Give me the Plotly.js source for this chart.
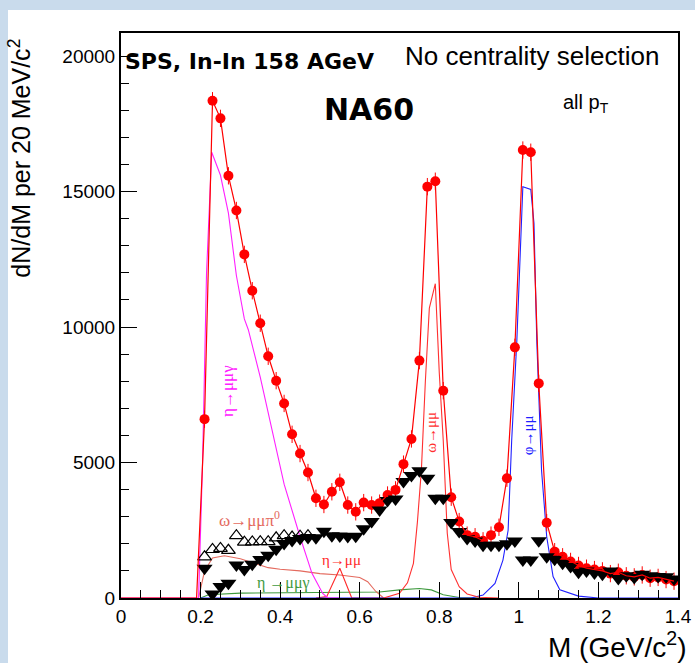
<!DOCTYPE html>
<html>
<head>
<meta charset="utf-8">
<script src="https://cdn.plot.ly/plotly-3.0.1.min.js"></script>
<style>
  html, body { margin: 0; padding: 0; background: #ffffff; }
  #wrap { position: relative; width: 695px; height: 663px; overflow: hidden; background: #ffffff; }
  #bandTop { position: absolute; left: 0; top: 0; width: 695px; height: 10px; background: #c9dbec; }
  #bandLeft { position: absolute; left: 0; top: 0; width: 8px; height: 663px; background: #c9dbec; }
  #chart { position: absolute; left: 0; top: 0; width: 695px; height: 663px; }
</style>
</head>
<body>
<div id="wrap">
  <div id="bandTop"></div>
  <div id="bandLeft"></div>
  <div id="chart"></div>
</div>
<script>
// ---- Data: bin centres (GeV/c^2), 20 MeV bins ----
var massData = [0.21,0.23,0.25,0.27,0.29,0.31,0.33,0.35,0.37,0.39,0.41,0.43,0.45,0.47,0.49,0.51,0.53,0.55,0.57,0.59,
                0.61,0.63,0.65,0.67,0.69,0.71,0.73,0.75,0.77,0.79,0.81,0.83,0.85,0.87,0.89,0.91,0.93,0.95,0.97,0.99,
                1.01,1.03,1.05,1.07,1.09,1.11,1.13,1.15,1.17,1.19,1.21,1.23,1.25,1.27,1.29,1.31,1.33,1.35,1.37,1.39];

// total measured spectrum (red circles)
var countsTotal = [6600,18350,17700,15580,14300,12680,11340,10140,8920,8020,7180,6040,5330,4630,3680,3450,3920,4270,3430,3180,
                   3520,3430,3500,3800,3990,4940,5870,8760,15180,15380,7650,3720,2820,2320,2260,2110,2320,2610,4420,9250,
                   16530,16450,7920,2780,1710,1520,1350,1200,1100,1050,1000,900,950,820,780,850,730,760,680,620];

// red line below threshold
var massLow = [0, 0.19];
var countsLow = [0, 0];

// excess after cocktail subtraction (black filled triangles)
var countsExcess = [1100,150,420,540,1220,1050,1250,1420,1580,1800,2010,2120,2200,2230,2220,2460,2300,2290,2270,2280,
                    2560,2820,3250,3600,3650,4300,4520,4700,4420,3680,3680,2790,2450,2200,2100,1950,1950,1950,2000,2100,
                    1400,1400,2110,1520,1430,1280,1160,950,1000,920,880,1000,720,820,760,880,820,790,780,700];

// open triangles (low-mass region)
var massOpen = [0.21,0.23,0.25,0.27,0.29,0.31,0.33,0.35,0.37,0.39,0.41,0.43,0.45,0.47];
var countsOpen = [1520,1790,1830,1760,2300,2060,2070,2080,2080,2220,2300,2250,2280,2300];

// cocktail: eta Dalitz (magenta)
var massEtaDal = [0, 0.19, 0.195, 0.205, 0.215, 0.228, 0.25, 0.27, 0.29, 0.31, 0.32, 0.35, 0.38, 0.41, 0.45, 0.48, 0.507, 0.52, 0.55];
var countsEtaDal = [0, 0, 0, 5000, 12000, 16450, 15600, 14200, 11900, 10300, 9900, 8150, 6200, 4200, 2260, 910, 170, 0, 0];

// omega Dalitz (light red)
var massOmDal = [0.195, 0.21, 0.23, 0.26, 0.30, 0.33, 0.37, 0.40, 0.45, 0.50, 0.55, 0.60, 0.62, 0.64, 0.66];
var countsOmDal = [0, 1000, 1480, 1560, 1450, 1320, 1120, 1060, 1000, 900, 850, 760, 600, 250, 0];

// eta -> mu mu (red)
var massEtaMM = [0.49, 0.517, 0.55, 0.575, 0.58, 0.66];
var countsEtaMM = [0, 50, 1100, 170, 0, 0];

// eta' Dalitz (green)
var massEtapDal = [0.2, 0.22, 0.30, 0.40, 0.50, 0.60, 0.65, 0.70, 0.75, 0.78, 0.81, 0.85, 0.90];
var countsEtapDal = [0, 120, 180, 190, 180, 190, 220, 300, 350, 300, 120, 20, 0];

// omega -> mu mu (red)
var massOmega = [0.66, 0.70, 0.72, 0.735, 0.745, 0.755, 0.765, 0.775, 0.79, 0.80, 0.81, 0.815, 0.82, 0.83, 0.85, 0.87, 0.90, 0.95];
var countsOmega = [0, 170, 560, 1280, 2800, 4720, 8000, 10700, 11600, 8300, 5800, 4000, 2400, 1050, 420, 150, 30, 0];

// phi -> mu mu (blue)
var massPhi = [0.2, 0.88, 0.91, 0.94, 0.96, 0.973, 0.982, 0.995, 1.01, 1.03, 1.038, 1.045, 1.057, 1.07, 1.086, 1.103, 1.15, 1.2, 1.4];
var countsPhi = [0, 0, 110, 540, 1400, 2500, 5830, 9520, 15180, 15080, 13830, 9520, 4720, 2260, 790, 300, 70, 0, 0];

// ---- Traces ----
function curve(x, y, color) {
  return {x: x, y: y, type: 'scatter', mode: 'lines', line: {color: color, width: 1.1}, hoverinfo: 'skip', showlegend: false};
}
var traces = [
  curve(massEtapDal, countsEtapDal, '#3f9a3f'),
  curve(massOmDal, countsOmDal, '#e46a5e'),
  curve(massEtaMM, countsEtaMM, '#ff2a2a'),
  curve(massPhi, countsPhi, '#2020ff'),
  curve(massEtaDal, countsEtaDal, '#ff20ff'),
  curve(massOmega, countsOmega, '#ff3030'),
  {x: massOpen, y: countsOpen, type: 'scatter', mode: 'markers',
   marker: {symbol: 'triangle-up-open', size: 12, color: '#000000', line: {width: 1.2, color: '#000000'}}, showlegend: false},
  {x: massData, y: countsTotal, type: 'scatter', mode: 'markers',
   marker: {symbol: 'circle', size: 10, color: '#ff0000'},
   error_y: {type: 'constant', value: 320, color: '#ff0000', thickness: 1, width: 0},
   error_x: {type: 'constant', value: 0.011, color: '#ff0000', thickness: 1, width: 0},
   showlegend: false},
  {x: massData, y: countsExcess, type: 'scatter', mode: 'markers',
   marker: {symbol: 'triangle-down', size: 14, color: '#000000'}, showlegend: false},
  {x: massLow.concat(massData), y: countsLow.concat(countsTotal), type: 'scatter', mode: 'lines',
   line: {color: '#ff0000', width: 1.2}, showlegend: false}
];

var serif = 'Liberation Serif, Times New Roman, serif';
var sans = 'Liberation Sans, Arial, sans-serif';
var layout = {
  width: 695, height: 663,
  margin: {l: 121, r: 17, t: 33, b: 65},
  paper_bgcolor: 'rgba(0,0,0,0)',
  plot_bgcolor: '#ffffff',
  showlegend: false,
  xaxis: {
    range: [0, 1.4], tick0: 0, dtick: 0.2,
    ticks: 'inside', ticklen: 16, tickwidth: 1, tickcolor: '#000',
    minor: {dtick: 0.05, ticks: 'inside', ticklen: 8, tickwidth: 1, tickcolor: '#000', showgrid: false},
    showline: true, linewidth: 2, linecolor: '#000', mirror: true,
    showgrid: false, zeroline: false,
    tickfont: {family: sans, size: 19, color: '#000'}
  },
  yaxis: {
    range: [0, 20850], tick0: 0, dtick: 5000, tickformat: 'd',
    ticks: 'inside', ticklen: 16, tickwidth: 1, tickcolor: '#000',
    minor: {dtick: 1000, ticks: 'inside', ticklen: 8, tickwidth: 1, tickcolor: '#000', showgrid: false},
    showline: true, linewidth: 2, linecolor: '#000', mirror: true,
    showgrid: false, zeroline: false,
    tickfont: {family: sans, size: 19, color: '#000'}
  },
  annotations: [
    {xref: 'paper', yref: 'paper', x: -0.181, y: 0.993, xanchor: 'center', yanchor: 'top', textangle: -90,
     text: 'dN/dM per 20 MeV/c<sup>2</sup>', showarrow: false, font: {family: sans, size: 25, color: '#000'}},
    {xref: 'paper', yref: 'paper', x: 1.018, y: -0.083, xanchor: 'right', yanchor: 'middle',
     text: 'M (GeV/c<sup>2</sup>)', showarrow: false, font: {family: sans, size: 28, color: '#000'}},
    {xref: 'x', yref: 'y', x: 0.004, y: 19800, xanchor: 'left', yanchor: 'middle',
     text: '<b>SPS, In-In 158 AGeV</b>', showarrow: false, font: {family: 'DejaVu Sans', size: 22, color: '#000'}},
    {xref: 'x', yref: 'y', x: 1.033, y: 19990, xanchor: 'center', yanchor: 'middle',
     text: 'No centrality selection', showarrow: false, font: {family: sans, size: 26, color: '#000'}},
    {xref: 'x', yref: 'y', x: 1.169, y: 18250, xanchor: 'center', yanchor: 'middle',
     text: 'all p<sub>T</sub>', showarrow: false, font: {family: sans, size: 20, color: '#000'}},
    {xref: 'x', yref: 'y', x: 0.623, y: 18010, xanchor: 'center', yanchor: 'middle',
     text: '<b>NA60</b>', showarrow: false, font: {family: 'DejaVu Sans', size: 30, color: '#000'}},
    {xref: 'x', yref: 'y', x: 0.269, y: 7640, xanchor: 'center', yanchor: 'middle', textangle: -90,
     text: 'η→μμγ', showarrow: false, font: {family: serif, size: 17, color: '#ff20ff'}},
    {xref: 'x', yref: 'y', x: 0.322, y: 2900, xanchor: 'center', yanchor: 'middle',
     text: 'ω→μμπ<sup>0</sup>', showarrow: false, font: {family: serif, size: 17, color: '#e46a5e'}},
    {xref: 'x', yref: 'y', x: 0.553, y: 1400, xanchor: 'center', yanchor: 'middle',
     text: 'η→μμ', showarrow: false, font: {family: serif, size: 15, color: '#ff2a2a'}},
    {xref: 'x', yref: 'y', x: 0.408, y: 560, xanchor: 'center', yanchor: 'middle',
     text: 'η →μμγ', showarrow: false, font: {family: serif, size: 16, color: '#3f9a3f'}},
    {xref: 'x', yref: 'y', x: 0.779, y: 6130, xanchor: 'center', yanchor: 'middle', textangle: -90,
     text: 'ω→μμ', showarrow: false, font: {family: serif, size: 15, color: '#ff3030'}},
    {xref: 'x', yref: 'y', x: 1.023, y: 6010, xanchor: 'center', yanchor: 'middle', textangle: -90,
     text: 'φ→μμ', showarrow: false, font: {family: serif, size: 15, color: '#2020ff'}}
  ]
};

Plotly.newPlot('chart', traces, layout, {displayModeBar: false, staticPlot: true});
</script>
</body>
</html>
